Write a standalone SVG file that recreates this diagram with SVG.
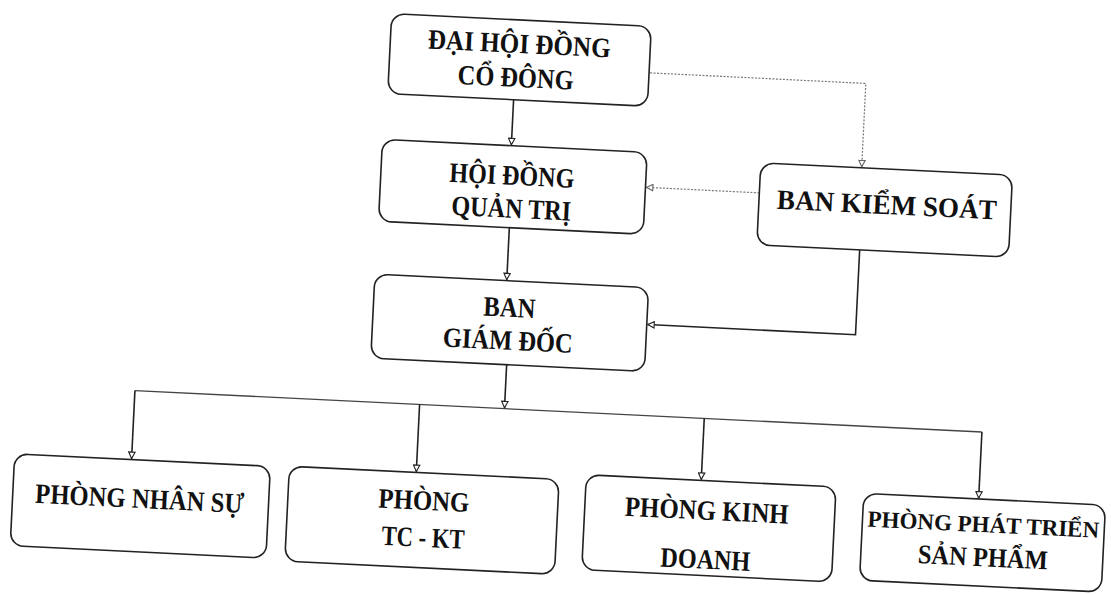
<svg xmlns="http://www.w3.org/2000/svg" width="1111" height="595" viewBox="0 0 1111 595">
<defs>
<style>
.box{fill:#fff;stroke:#222;stroke-width:1.6}
.t{font-family:"Liberation Serif","Times New Roman",serif;font-weight:bold;font-size:28px;fill:#111;text-anchor:middle}
.ln{fill:none;stroke:#222;stroke-width:1.6}
.bus{fill:none;stroke:#444;stroke-width:1.3}
.dot{fill:none;stroke:#777;stroke-width:1.2;stroke-dasharray:2 1.5}
</style>
<marker id="ah" viewBox="0 0 10 10" refX="9" refY="5" markerWidth="8" markerHeight="8" markerUnits="userSpaceOnUse" orient="auto">
<path d="M1,1 L9,5 L1,9 z" fill="#fff" stroke="#222" stroke-width="1.4"/>
</marker>
<marker id="ahg" viewBox="0 0 10 10" refX="9" refY="5" markerWidth="8" markerHeight="8" markerUnits="userSpaceOnUse" orient="auto">
<path d="M1,1 L9,5 L1,9 z" fill="#fff" stroke="#666" stroke-width="1.4"/>
</marker>
</defs>
<rect width="1111" height="595" fill="#fff"/>
<g transform="rotate(2.8 555 297)">
<g id="connectors">
<path class="ln" d="M504,102 V147" marker-end="url(#ah)"/>
<path class="dot" d="M639,68.5 H855 V152" marker-end="url(#ahg)"/>
<path class="dot" d="M754,183 H641" marker-end="url(#ahg)"/>
<path class="ln" d="M506,230 V282" marker-end="url(#ah)"/>
<path class="ln" d="M857,235 V320 H649" marker-end="url(#ah)"/>
<path class="ln" d="M510,367 V410" marker-end="url(#ah)"/>
<path class="bus" d="M140,411 H988"/>
<path class="ln" d="M140,411 V479" marker-end="url(#ah)"/>
<path class="ln" d="M425,411 V478" marker-end="url(#ah)"/>
<path class="ln" d="M710,411 V472" marker-end="url(#ah)"/>
<path class="ln" d="M988,411 V477" marker-end="url(#ah)"/>
</g>
<g id="dhdcd">
<rect class="box" x="378" y="22" width="260" height="80" rx="13"/>
<text class="t" x="507" y="55" textLength="183" lengthAdjust="spacingAndGlyphs">ĐẠI HỘI ĐỒNG</text>
<text class="t" x="505" y="89" textLength="116" lengthAdjust="spacingAndGlyphs">CỔ ĐÔNG</text>
</g>
<g id="hdqt">
<rect class="box" x="375" y="148" width="265" height="82" rx="13"/>
<text class="t" x="506" y="187" textLength="125" lengthAdjust="spacingAndGlyphs">HỘI ĐỒNG</text>
<text class="t" x="507" y="220" textLength="120" lengthAdjust="spacingAndGlyphs">QUẢN TRỊ</text>
</g>
<g id="bks">
<rect class="box" x="754" y="153" width="252" height="82" rx="13"/>
<text class="t" x="882" y="198" textLength="220" lengthAdjust="spacingAndGlyphs">BAN KIỂM SOÁT</text>
</g>
<g id="bgd">
<rect class="box" x="374" y="283" width="274" height="84" rx="13"/>
<text class="t" x="510" y="319" textLength="52" lengthAdjust="spacingAndGlyphs">BAN</text>
<text class="t" x="510" y="352" textLength="130" lengthAdjust="spacingAndGlyphs">GIÁM ĐỐC</text>
</g>
<g id="pns">
<rect class="box" x="23" y="480" width="256" height="92" rx="13"/>
<text class="t" x="150" y="528" textLength="209" lengthAdjust="spacingAndGlyphs">PHÒNG NHÂN SỰ</text>
</g>
<g id="ptckt">
<rect class="box" x="298" y="479" width="270" height="95" rx="13"/>
<text class="t" x="434" y="516" textLength="91" lengthAdjust="spacingAndGlyphs">PHÒNG</text>
<text class="t" x="435" y="553" textLength="83" lengthAdjust="spacingAndGlyphs">TC - KT</text>
</g>
<g id="pkd">
<rect class="box" x="595" y="473" width="250" height="95" rx="13"/>
<text class="t" x="717" y="512" textLength="164" lengthAdjust="spacingAndGlyphs">PHÒNG KINH</text>
<text class="t" x="718" y="561" textLength="90" lengthAdjust="spacingAndGlyphs">DOANH</text>
</g>
<g id="pptsp">
<rect class="box" x="873" y="478" width="242" height="87" rx="13"/>
<text class="t" x="994" y="511" style="font-size:23px">PHÒNG PHÁT TRIỂN</text>
<text class="t" x="995" y="545" textLength="130" lengthAdjust="spacingAndGlyphs" style="font-size:27px">SẢN PHẨM</text>
</g>
</g>
</svg>
